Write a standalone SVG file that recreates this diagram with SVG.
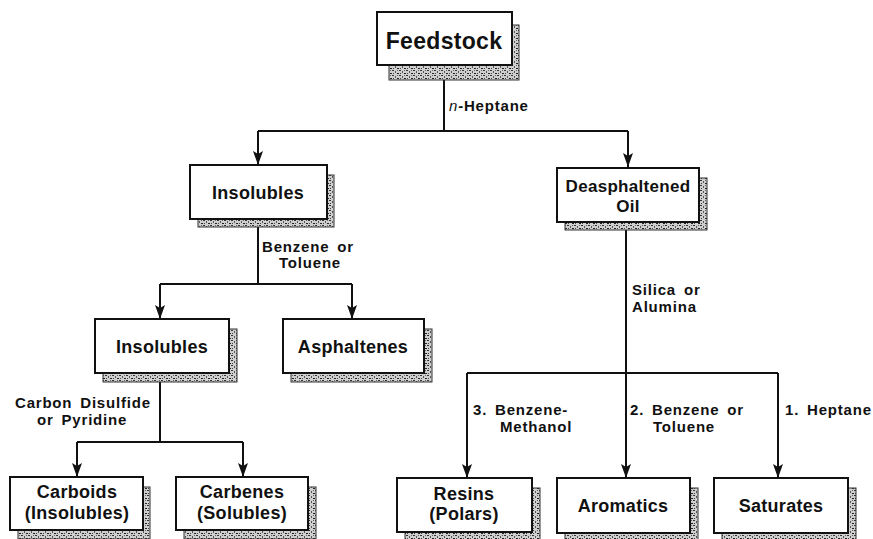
<svg xmlns="http://www.w3.org/2000/svg" width="873" height="539" viewBox="0 0 873 539">
<defs>
<pattern id="stip" width="7" height="5" patternUnits="userSpaceOnUse">
<rect width="7" height="5" fill="#cfcfcf"/>
<rect x="0" y="0" width="2" height="1" fill="#333"/>
<rect x="3" y="1" width="1" height="2" fill="#555"/>
<rect x="5" y="3" width="2" height="1" fill="#222"/>
<rect x="1" y="3" width="1" height="1" fill="#444"/>
<rect x="5" y="0" width="1" height="1" fill="#666"/>
</pattern>
<marker id="arr" markerWidth="14" markerHeight="10" refX="14" refY="5" orient="auto" markerUnits="userSpaceOnUse" viewBox="0 0 14 10">
<path d="M0,0 L3,5 L0,10 L14,5 Z" fill="#111"/>
</marker>
</defs>
<style>
.sh{fill:url(#stip);stroke:#333;stroke-width:1}
.bx{fill:#fff;stroke:#111;stroke-width:2}
.nt{font-family:"Liberation Sans",Arial,sans-serif;font-weight:bold;font-size:18px;fill:#111;text-anchor:middle;letter-spacing:0.3px}
.lb{font-family:"Liberation Sans",Arial,sans-serif;font-weight:bold;font-size:15px;fill:#111;letter-spacing:0.8px;word-spacing:3px}
.cn{fill:none;stroke:#111;stroke-width:2}
.ar{fill:none;stroke:#111;stroke-width:2;marker-end:url(#arr)}
</style>
<rect width="873" height="539" fill="#fff"/>

<g id="connectors">
<path class="cn" d="M444,65 V131 M258,131 H628"/>
<path class="ar" d="M258,131 V165"/>
<path class="ar" d="M628,131 V167"/>
<path class="cn" d="M258,219 V284 M160,284 H352"/>
<path class="ar" d="M160,284 V319"/>
<path class="ar" d="M352,284 V319"/>
<path class="cn" d="M160,373 V442 M77,442 H243"/>
<path class="ar" d="M77,442 V477"/>
<path class="ar" d="M243,442 V477"/>
<path class="cn" d="M626,222 V373 M467,373 H778"/>
<path class="ar" d="M467,373 V478"/>
<path class="ar" d="M626,373 V478"/>
<path class="ar" d="M778,373 V478"/>
<text class="lb" x="449" y="111"><tspan font-style="italic" font-weight="normal">n</tspan>-Heptane</text>
<text class="lb" x="262" y="252">Benzene or</text>
<text class="lb" x="279" y="268">Toluene</text>
<text class="lb" x="632" y="295">Silica or</text>
<text class="lb" x="632" y="312">Alumina</text>
<text class="lb" x="15" y="408">Carbon Disulfide</text>
<text class="lb" x="37" y="425">or Pyridine</text>
<text class="lb" x="473" y="415">3. Benzene-</text>
<text class="lb" x="500" y="432">Methanol</text>
<text class="lb" x="630" y="415">2. Benzene or</text>
<text class="lb" x="653" y="432">Toluene</text>
<text class="lb" x="785" y="415">1. Heptane</text>
</g>

<g id="feedstock">
<rect class="sh" x="389" y="25" width="130" height="55"/>
<rect class="bx" x="377" y="12" width="135" height="53"/>
<text class="nt" x="444" y="49" style="font-size:23px">Feedstock</text>
</g>
<g id="insolubles1">
<rect class="sh" x="198" y="175" width="136" height="52"/>
<rect class="bx" x="190" y="165" width="137" height="54"/>
<text class="nt" x="258" y="199">Insolubles</text>
</g>
<g id="deasphaltened">
<rect class="sh" x="565" y="178" width="142" height="52"/>
<rect class="bx" x="557" y="168" width="142" height="54"/>
<text class="nt" x="628" y="192" style="font-size:17px">Deasphaltened</text>
<text class="nt" x="628" y="212" style="font-size:17px">Oil</text>
</g>
<g id="insolubles2">
<rect class="sh" x="103" y="329" width="134" height="53"/>
<rect class="bx" x="95" y="319" width="134" height="54"/>
<text class="nt" x="162" y="353">Insolubles</text>
</g>
<g id="asphaltenes">
<rect class="sh" x="291" y="329" width="141" height="53"/>
<rect class="bx" x="283" y="319" width="141" height="54"/>
<text class="nt" x="353" y="353">Asphaltenes</text>
</g>
<g id="carboids">
<rect class="sh" x="18" y="487" width="132" height="52"/>
<rect class="bx" x="10" y="477" width="133" height="53"/>
<text class="nt" x="77" y="498">Carboids</text>
<text class="nt" x="77" y="519">(Insolubles)</text>
</g>
<g id="carbenes">
<rect class="sh" x="184" y="487" width="132" height="52"/>
<rect class="bx" x="176" y="477" width="132" height="53"/>
<text class="nt" x="242" y="498">Carbenes</text>
<text class="nt" x="242" y="519">(Solubles)</text>
</g>
<g id="resins">
<rect class="sh" x="405" y="488" width="135" height="53"/>
<rect class="bx" x="397" y="478" width="135" height="54"/>
<text class="nt" x="464" y="500">Resins</text>
<text class="nt" x="464" y="520">(Polars)</text>
</g>
<g id="aromatics">
<rect class="sh" x="565" y="488" width="133" height="53"/>
<rect class="bx" x="557" y="478" width="133" height="55"/>
<text class="nt" x="623" y="512">Aromatics</text>
</g>
<g id="saturates">
<rect class="sh" x="722" y="488" width="134" height="53"/>
<rect class="bx" x="714" y="478" width="134" height="55"/>
<text class="nt" x="781" y="512">Saturates</text>
</g>
</svg>
